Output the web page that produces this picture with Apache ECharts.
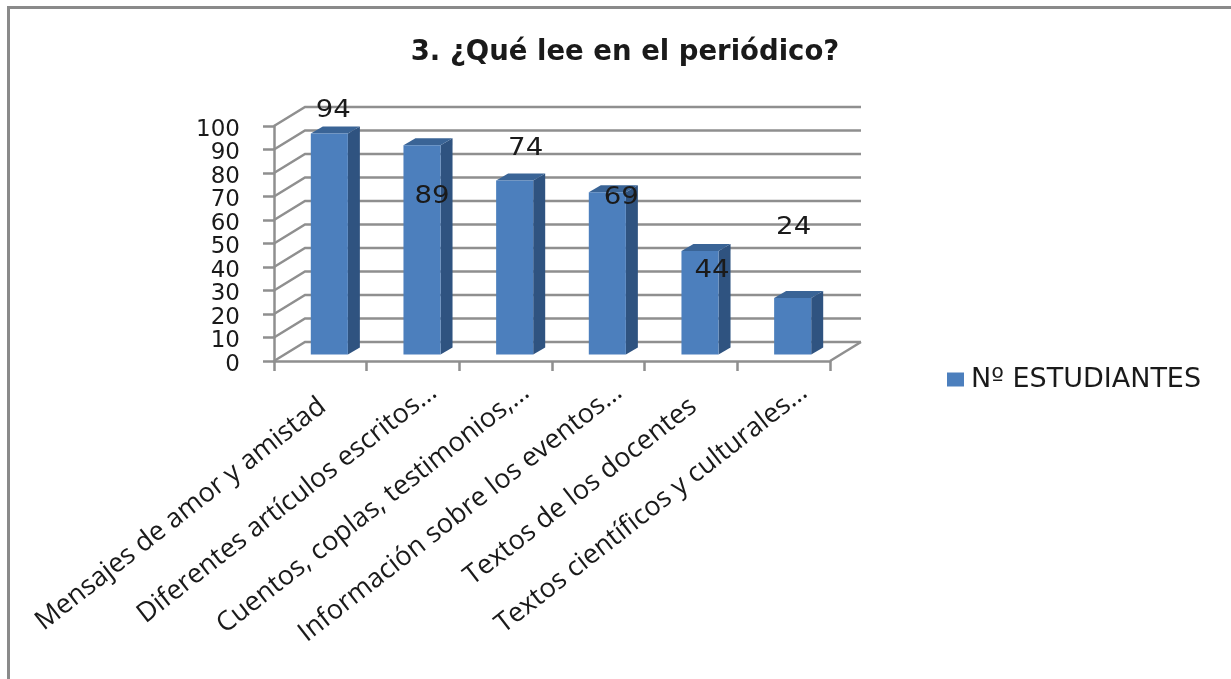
<!DOCTYPE html>
<html>
<head>
<meta charset="utf-8">
<style>
html,body{margin:0;padding:0;background:#fff;overflow:hidden}
#chart{position:absolute;left:0;top:0;width:1231px;height:679px}
#frame{position:absolute;left:7px;top:6px;width:1300px;height:800px;border-left:3px solid #8a8a8a;border-top:3px solid #8a8a8a}
</style>
<script src="https://cdn.jsdelivr.net/npm/echarts@6/dist/echarts.min.js"></script>
</head>
<body>
<div id="frame"></div>
<div id="chart"></div>
<script>
const categories = [
  "Mensajes de amor y amistad",
  "Diferentes artículos escritos…",
  "Cuentos, coplas, testimonios,…",
  "Información sobre los eventos…",
  "Textos de los docentes",
  "Textos científicos y culturales…"
];
const values = [94, 89, 74, 69, 44, 24];
const yTicks = [0, 10, 20, 30, 40, 50, 60, 70, 80, 90, 100];
const seriesName = "Nº ESTUDIANTES";
const titleText = "3. ¿Qué lee en el periódico?";

// label placement relative to the top-centre of each bar (the source chart scatters them)
const labelShiftX = [4, 10, 11, 14, 12, 1];
const labelShiftY = [-23, 51, -32, 5, 20, -70];
// the source's truncated labels run further past their tick along the label direction
const labelRun = [3, 26, 26, 26, 3, 26];

const GRID = '#8f8f8f', FRONT = '#4c7fbd', SIDE = '#2f5380', TOP = '#3a6496';
const DX = 31, DY = 19;      // wall depth
const BDX = 12, BDY = 7;     // bar depth
const BOX = 9, BOY = 6.5;    // bar offset from front plane
const FONT = '"DejaVu Sans"';

const chart = echarts.init(document.getElementById('chart'), null, {renderer:'canvas'});

function wall(params, api){
  const v = api.value(0);
  const p = api.coord([0, v]);
  const cs = params.coordSys;
  const x0 = cs.x, x1 = cs.x + cs.width, y = p[1];
  const style = {stroke: GRID, lineWidth: 2.5, fill: null};
  const children = [{
    type:'polyline',
    shape:{points:[[x0,y],[x0+DX,y-DY],[x1+DX,y-DY]]},
    style
  }];
  if (v === 0) children.push({type:'line',shape:{x1:x1,y1:y,x2:x1+DX,y2:y-DY},style});
  return {type:'group',children};
}

function bar(params, api){
  const i = api.value(0), v = api.value(1);
  const base = api.coord([i, 0]), top = api.coord([i, v]);
  const w = api.size([1,0])[0] * 0.4;
  const l = base[0] - w/2 + BOX, r = l + w;
  const b = base[1] - BOY, t = top[1] - BOY;
  return {type:'group',children:[
    {type:'polygon',shape:{points:[[r,t],[r+BDX,t-BDY],[r+BDX,b-BDY],[r,b]]},style:{fill:SIDE}},
    {type:'polygon',shape:{points:[[l,t],[l+BDX,t-BDY],[r+BDX,t-BDY],[r,t]]},style:{fill:TOP}},
    {type:'rect',shape:{x:l,y:t,width:w,height:b-t},style:{fill:FRONT}},
    {type:'text',z2:10,
      x:(l+r)/2+labelShiftX[i], y:t+labelShiftY[i], scaleX:1.15,
      style:{
        x:0, y:0, text:String(v),
        fill:'#1a1a1a', font:'24px '+FONT, align:'center', verticalAlign:'middle'
      }
    }
  ]};
}

chart.setOption({
  animation:false,
  backgroundColor:'transparent',
  title:{
    text:titleText, left:620, top:34, textAlign:'center',
    textStyle:{fontFamily:FONT,fontWeight:'bold',fontSize:27.5,color:'#1a1a1a'}
  },
  legend:{
    data:[seriesName], left:942, top:361, icon:'rect', itemWidth:17, itemHeight:14, itemGap:8,
    textStyle:{fontFamily:FONT,fontSize:27,color:'#1a1a1a',padding:[0,0,0,2]},
    itemStyle:{color:FRONT}
  },
  grid:[
    {left:274,right:401,top:126,bottom:318,containLabel:false},
    // value labels sit a few pixels below their ticks in the source
    {left:274,right:401,top:130,bottom:314,containLabel:false}
  ],
  xAxis:[{
    type:'category',
    data:categories.map((c,i)=>({value:c,textStyle:{padding:[0,-labelRun[i],0,0]}})),
    axisLine:{show:true,lineStyle:{color:GRID,width:2.5}},
    axisTick:{show:true,length:10,alignWithLabel:false,lineStyle:{color:GRID,width:2.5}},
    axisLabel:{rotate:38,interval:0,margin:44,fontFamily:'"Open Sans"',fontSize:27,color:'#1a1a1a',hideOverlap:false},
    splitLine:{show:false}
  },{
    gridIndex:1, type:'category', data:categories, show:false
  }],
  yAxis:[{
    type:'value', min:0, max:100, interval:10,
    axisLine:{show:true,lineStyle:{color:GRID,width:2.5}},
    axisTick:{show:true,length:11,lineStyle:{color:GRID,width:2.5}},
    axisLabel:{show:false},
    splitLine:{show:false}
  },{
    gridIndex:1, type:'value', min:0, max:100, interval:10,
    axisLine:{show:false}, axisTick:{show:false}, splitLine:{show:false},
    axisLabel:{margin:34,fontFamily:FONT,fontSize:23,color:'#1a1a1a',hideOverlap:false}
  }],
  series:[
    {type:'custom',name:'walls',z:1,silent:true,clip:false,renderItem:wall,
     encode:{y:0},data:yTicks.map(t=>[t])},
    {type:'custom',name:seriesName,z:3,clip:false,renderItem:bar,itemStyle:{color:FRONT},
     encode:{x:0,y:1},data:values.map((v,i)=>[i,v])}
  ]
});
</script>
</body>
</html>
